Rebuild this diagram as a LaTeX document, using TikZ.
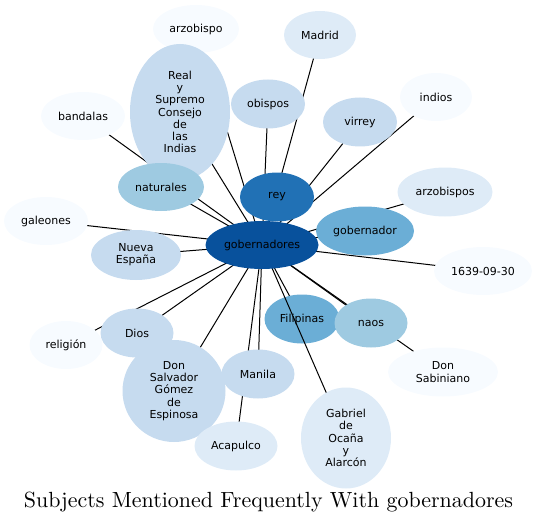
\documentclass[tikz,border=0pt]{standalone}
\usepackage{fontspec}
\newfontfamily\dejavu{DejaVu Sans}
\newfontfamily\titlefont{lmroman10-regular.otf}
\usetikzlibrary{shapes.geometric}
\definecolor{bA}{HTML}{F7FBFF}
\definecolor{bB}{HTML}{DEEBF7}
\definecolor{bC}{HTML}{C6DBEF}
\definecolor{bD}{HTML}{9ECAE1}
\definecolor{bE}{HTML}{6BAED6}
\definecolor{bF}{HTML}{2171B5}
\definecolor{bG}{HTML}{08519C}
\pgfdeclarelayer{edgelayer}
\pgfdeclarelayer{midlayer}
\pgfdeclarelayer{toplinelayer}
\pgfsetlayers{edgelayer,midlayer,toplinelayer,main}
\tikzset{
  bub/.style={ellipse, draw=none, inner sep=0pt, align=center,
    font=\dejavu\fontsize{11}{12.2}\selectfont, text=black},
  link/.style={draw=black, line width=1.0pt}
}
\begin{document}
\begin{tikzpicture}[x=1pt,y=-1pt]
\useasboundingbox (0,0) rectangle (538,524);
\node[bub, fill=bA, minimum width=86, minimum height=48] (arzobispo) at (196,29) {arzobispo};
\node[bub, fill=bB, minimum width=72, minimum height=48] (madrid) at (320,35) {Madrid};
\node[bub, fill=bC, minimum width=100, minimum height=136] (consejo) at (180,112) {Real\\y\\Supremo\\Consejo\\de\\las\\Indias};
\node[bub, fill=bC, minimum width=74, minimum height=49] (obispos) at (268,104) {obispos};
\node[bub, fill=bC, minimum width=74, minimum height=49] (virrey) at (360,122) {virrey};
\node[bub, fill=bA, minimum width=72, minimum height=48] (indios) at (436,97) {indios};
\node[bub, fill=bA, minimum width=84, minimum height=48] (bandalas) at (83,116) {bandalas};
\node[bub, fill=bD, minimum width=86, minimum height=48] (naturales) at (161,187) {naturales};
\node[bub, fill=bF, minimum width=74, minimum height=49] (rey) at (277,197) {rey};
\node[bub, fill=bB, minimum width=95, minimum height=49] (arzobispos) at (445,192) {arzobispos};
\node[bub, fill=bE, minimum width=98, minimum height=49] (gobernador) at (365,231) {gobernador};
\node[bub, fill=bA, minimum width=84, minimum height=48] (galeones) at (46,221) {galeones};
\node[bub, fill=bC, minimum width=90, minimum height=50] (nueva) at (136,255) {Nueva\\España};
\node[bub, fill=bG, minimum width=113, minimum height=48] (gob) at (262,245) {gobernadores};
\node[bub, fill=bA, minimum width=98, minimum height=48] (fecha) at (483,271) {1639-09-30};
\begin{pgfonlayer}{midlayer}
\node[bub, fill=bE, minimum width=75, minimum height=49] (filipinas) at (302,319) {Filipinas};
\end{pgfonlayer}
\node[bub, fill=bD, minimum width=73, minimum height=49] (naos) at (371,323) {naos};
\node[bub, fill=bA, minimum width=73, minimum height=48] (religion) at (66,345) {religión};
\node[bub, fill=bC, minimum width=73, minimum height=49] (dios) at (137,333) {Dios};
\node[bub, fill=bC, minimum width=103, minimum height=102] (salvador) at (174,391) {Don\\Salvador\\Gómez\\de\\Espinosa};
\node[bub, fill=bC, minimum width=73, minimum height=49] (manila) at (258,374) {Manila};
\node[bub, fill=bB, minimum width=83, minimum height=49] (acapulco) at (236,446) {Acapulco};
\node[bub, fill=bB, minimum width=90, minimum height=101] (gabriel) at (346,438) {Gabriel\\de\\Ocaña\\y\\Alarcón};
\node[bub, fill=bA, minimum width=110, minimum height=49] (sabiniano) at (443,372) {Don\\Sabiniano};
\begin{pgfonlayer}{edgelayer}
\foreach \n in {arzobispo,madrid,consejo,obispos,virrey,indios,bandalas,naturales,rey,arzobispos,gobernador,galeones,nueva,fecha,filipinas,naos,religion,dios,salvador,manila,acapulco,sabiniano}
  \draw[link] (gob.center) -- (\n.center);
\end{pgfonlayer}
\begin{pgfonlayer}{toplinelayer}
\draw[link] (gob.center) -- (gabriel.center);
\end{pgfonlayer}
\node[inner sep=0pt] (title) at (268.5,502) {\resizebox{489pt}{!}{\titlefont Subjects Mentioned Frequently With gobernadores}};
\end{tikzpicture}
\end{document}
